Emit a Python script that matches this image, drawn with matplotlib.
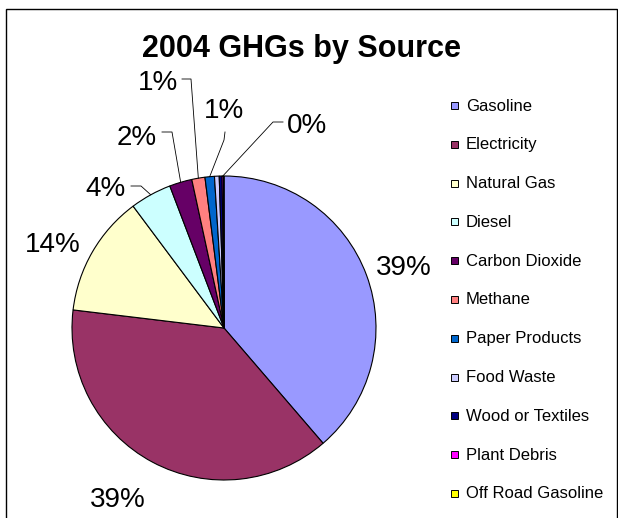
import matplotlib
matplotlib.use("Agg")
import matplotlib.pyplot as plt
from matplotlib.patches import Rectangle
import numpy as np

plt.rcParams['font.family'] = ['Liberation Sans', 'DejaVu Sans']

# Data (share of 2004 GHG emissions, %)
sources = ["Gasoline", "Electricity", "Natural Gas", "Diesel", "Carbon Dioxide",
           "Methane", "Paper Products", "Food Waste", "Wood or Textiles",
           "Plant Debris", "Off Road Gasoline"]
shares = [38.7, 38.2, 12.9, 4.4, 2.4, 1.4, 1.0, 0.5, 0.3, 0.15, 0.05]
# percent labels as printed on the chart ('' = not shown)
pct_labels = ["39%", "39%", "14%", "4%", "2%", "1%", "1%", "", "", "0%", ""]
colors = ["#9999FF", "#993366", "#FFFFCC", "#CCFFFF", "#660066", "#FF8080",
          "#0066CC", "#CCCCFF", "#000080", "#FF00FF", "#FFFF00"]

# Layout in pixels (figure is 618 x 518)
W, H = 618, 518
cx, cy, R = 224, 328, 152


def to_data(px, py):
    return ((px - cx) / R, (cy - py) / R)


# label placement: (x, y baseline, ha, leader points in px or None)
label_layout = {
    0: (404, 275, "center", None),
    1: (118, 507, "center", None),
    2: (53, 252, "center", None),
    3: (126, 196, "right", [(131, 186), (141, 186)]),
    4: (157, 145, "right", [(162, 132), (172, 132)]),
    5: (178, 90, "right", [(182, 79), (191, 79)]),
    6: (224, 118, "center", [(225, 132), (224, 140)]),
    9: (287, 133, "left", [(283, 122), (273, 122)]),
}

fig = plt.figure(figsize=(W / 100, H / 100), dpi=100)
ax = fig.add_axes([0, 0, 1, 1])

wedges, _ = ax.pie(shares, colors=colors, startangle=90, counterclock=False,
                   radius=1, wedgeprops=dict(edgecolor="black", linewidth=0.8))

ax.set_xlim((0 - cx) / R, (W - cx) / R)
ax.set_ylim((cy - H) / R, cy / R)
ax.set_aspect("auto")
ax.axis("off")

# percent labels with leader lines
for i, (x, y, ha, leader) in label_layout.items():
    tx, ty = to_data(x, y)
    ax.text(tx, ty, pct_labels[i], fontsize=20, ha=ha, va="baseline")
    if leader:
        w = wedges[i]
        mid = np.deg2rad((w.theta1 + w.theta2) / 2)
        pts = [to_data(*p) for p in leader] + [(np.cos(mid), np.sin(mid))]
        xs, ys = zip(*pts)
        ax.plot(xs, ys, color="black", lw=0.6)

# title
tx, ty = to_data(301, 57)
ax.text(tx, ty, "2004 GHGs by Source", fontsize=22, fontweight="bold",
        ha="center", va="baseline")

# legend
base0, step = 110.7, 38.76
for i, (name, col) in enumerate(zip(sources, colors)):
    by = base0 + i * step
    x0, y0 = to_data(451, by - 1.5)
    ax.add_patch(Rectangle((x0, y0), 7 / R, 7 / R, facecolor=col,
                           edgecolor="black", linewidth=0.7))
    lx, ly = to_data(466, by)
    ax.text(lx, ly, name, fontsize=12, ha="left", va="baseline")

# chart border
fig.patches.append(Rectangle((5.5 / W, -0.01), (617 - 5.5) / W, 1.01 - 8.5 / H,
                             transform=fig.transFigure, fill=False,
                             edgecolor="black", linewidth=1))

fig.savefig("out.png", dpi=100)
